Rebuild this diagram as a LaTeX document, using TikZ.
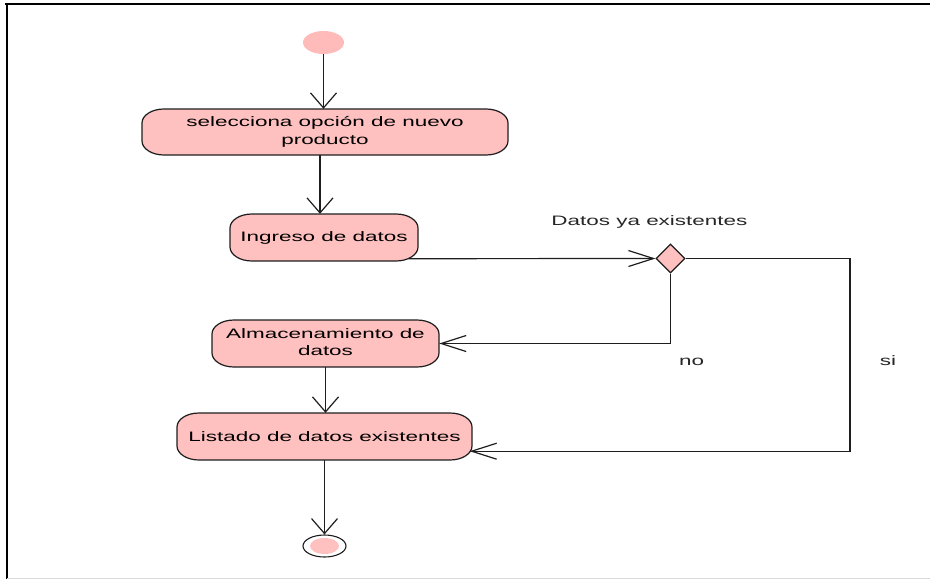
\documentclass[tikz,border=0pt]{standalone}
\usepackage{graphicx}
\usepackage{fontspec}
\setmainfont{Liberation Sans}
\usetikzlibrary{arrows.meta,shapes.geometric}

\definecolor{pinkfill}{RGB}{255,192,192}
\definecolor{startfill}{RGB}{255,186,186}
\definecolor{edge}{RGB}{30,30,30}

% horizontally widened text
\newcommand\wide[1]{\scalebox{1.64}[1]{#1}}
\newcommand\widetwo[2]{\scalebox{1.64}[1]{\begin{tabular}{@{}c@{}}#1\\#2\end{tabular}}}

% corner radii of the action boxes (elliptic corners)
\newcommand\crx{22}
\newcommand\cry{14}

% action box: name, centre x, centre y, width, height, text
\newcommand\actbox[6]{%
  \pgfmathsetmacro\xa{#2-#4/2}\pgfmathsetmacro\xb{#2+#4/2}%
  \pgfmathsetmacro\ya{#3-#5/2}\pgfmathsetmacro\yb{#3+#5/2}%
  \draw[boxedge] (\xa+\crx,\ya) -- (\xb-\crx,\ya)
     arc[start angle=-90,end angle=0,x radius=\crx,y radius=\cry]
     -- (\xb,\yb-\cry)
     arc[start angle=0,end angle=90,x radius=\crx,y radius=\cry]
     -- (\xa+\crx,\yb)
     arc[start angle=90,end angle=180,x radius=\crx,y radius=\cry]
     -- (\xa,\ya+\cry)
     arc[start angle=180,end angle=270,x radius=\crx,y radius=\cry]
     -- cycle;
  \node[boxlabel, minimum width=#4pt, minimum height=#5pt] (#1) at (#2,#3) {#6};
}

\tikzset{
  boxedge/.style={draw=edge, line width=1.2pt, fill=pinkfill},
  boxlabel/.style={inner sep=0pt, font=\fontsize{13.7}{17.5}\selectfont, text=black},
  lbl/.style={inner sep=0pt, font=\fontsize{13.7}{16}\selectfont, text=black!85, anchor=base},
  flow/.style={draw=edge, line width=1.2pt},
  vtip/.style={flow, -{Straight Barb[length=15pt,width=26pt]}},
  htip/.style={flow, -{Straight Barb[length=25pt,width=16pt]}},
}

\begin{document}
\begin{tikzpicture}[x=1pt,y=-1pt]
\useasboundingbox (0,0) rectangle (930,579);

% frame
\draw[line width=1.8pt, black] (5,4) -- (930,4);
\draw[line width=1.8pt, black] (7,4) -- (7,579);
\draw[line width=0.8pt, black!15] (7,578) -- (930,578);

% initial and final states
\node[ellipse, fill=startfill, minimum width=41pt, minimum height=23pt, inner sep=0pt] (ini) at (323.5,42.5) {};
\node[ellipse, draw=edge, line width=1.1pt, fill=white, minimum width=43pt, minimum height=22pt, inner sep=0pt] (fin) at (324.5,546) {};
\node[ellipse, fill=pinkfill, minimum width=29pt, minimum height=16pt, inner sep=0pt] (finc) at (fin.center) {};

% actions
\actbox{sel}{325}{132}{366}{46}{\widetwo{selecciona opción de nuevo}{producto}}
\actbox{ing}{324}{237.5}{188}{47}{\wide{Ingreso de datos}}
\actbox{alm}{325.5}{343.5}{227}{47}{\widetwo{Almacenamiento de}{datos}}
\actbox{lis}{324.5}{436.5}{295}{47}{\wide{Listado de datos existentes}}

% decision
\node[diamond, aspect=1, draw=edge, line width=1.2pt, fill=pinkfill, minimum width=29pt, minimum height=29pt, inner sep=0pt] (dec) at (670.5,258.5) {};
\node[lbl] (tdec) at (649.4,225.5) {\wide{Datos ya existentes}};
\node[lbl] (tno) at (691.5,365.5) {\wide{no}};
\node[lbl] (tsi) at (888,365.5) {\wide{si}};

% helper points
\coordinate (k2) at (320,185);
\coordinate (rx) at (850,300);
\coordinate (ingout) at ([xshift=-9.5pt,yshift=2.5pt]ing.south east);
\coordinate (lisin) at ([xshift=-2.5pt,yshift=9pt]lis.south east);

% flow
\draw[vtip] (ini.south) -- (ini.south |- sel.north);
\draw[vtip] (sel.south -| k2) -- (ing.north -| k2);
\draw[htip] (ingout) -- (dec.west);
\draw[htip] (dec.south) |- (alm.east);
\draw[htip] (dec.east) -- (dec.east -| rx) -- (rx |- lisin) -- (lisin);
\draw[vtip] (alm.south) -- (alm.south |- lis.north);
\draw[vtip] (lis.south -| fin.north) -- (fin.north);
\end{tikzpicture}
\end{document}
